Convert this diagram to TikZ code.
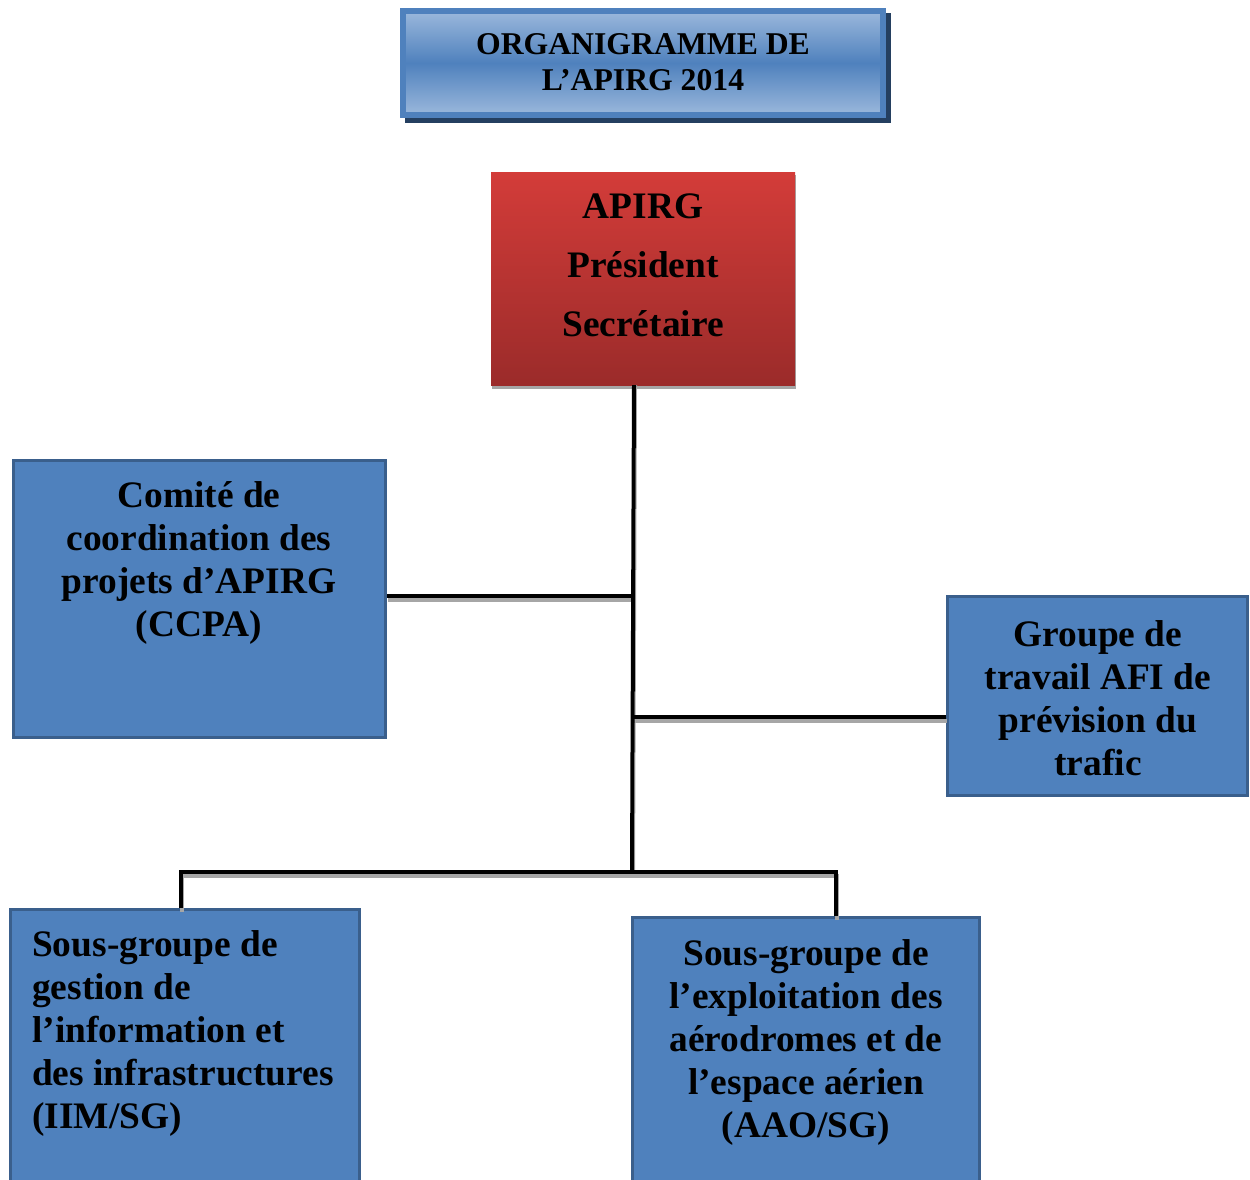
\documentclass[tikz,border=0pt]{standalone}
\usepackage{fontspec}
\setmainfont{Liberation Serif}
\begin{document}
\begin{tikzpicture}[x=1pt,y=1pt,
  blueA/.style={fill=bluefill, draw=blueedge, line width=3pt, inner sep=0pt},
  txt/.style={font=\fontsize{37.4}{43}\selectfont\bfseries, inner sep=0pt, text=black},
  conn/.style={draw=black, line width=4pt, line join=miter},
  connsh/.style={draw=shadowgray, line width=4pt, line join=miter}]
\definecolor{bluefill}{HTML}{4F81BD}
\definecolor{blueedge}{HTML}{3A5F8C}
\definecolor{titlelight}{HTML}{9BB8DC}
\definecolor{titledark}{HTML}{243F60}
\definecolor{redtop}{HTML}{D33C39}
\definecolor{redbot}{HTML}{9B2B2A}
\definecolor{shadowgray}{HTML}{A6A6A6}
\useasboundingbox (0,0) rectangle (1250,-1180);
\clip (0,0) rectangle (1250,-1180);
% title
\fill[titledark] (405,-13) rectangle (891,-123);
\node[minimum width=480, minimum height=104, inner sep=0pt, draw=bluefill, line width=6pt,
  top color=titlelight, bottom color=titlelight, middle color=bluefill] (title) at (643,-63) {};
\node[font=\fontsize{31.7}{36}\selectfont\bfseries, align=center, inner sep=0pt] (titletxt) at (643,-62)
  {ORGANIGRAMME DE\\L’APIRG 2014};
% APIRG
\fill[shadowgray] (492,-175) rectangle (796,-389);
\node[minimum width=304, minimum height=213, inner sep=0pt, top color=redtop, bottom color=redbot] (apirg) at (643,-278.5) {};
\node[txt, align=center, font=\fontsize{37.4}{59}\selectfont\bfseries] (apirgtxt) at (643,-265) {APIRG\\Président\\Secrétaire};
% boxes
\node[blueA, minimum width=372, minimum height=277] (ccpa) at (199.5,-599) {};
\node[txt, align=center] (ccpatxt) at (199,-563) {Comité de\\coordination des\\projets d’APIRG\\(CCPA)};
\node[blueA, minimum width=300, minimum height=199] (groupe) at (1097.5,-696) {};
\node[txt, align=center] (groupetxt) at (1098,-698) {Groupe de\\travail AFI de\\prévision du\\trafic};
\node[blueA, minimum width=349, minimum height=309] (iim) at (185,-1064) {};
\node[txt, align=left, anchor=west] (iimtxt) at (32,-1033.5) {Sous-groupe de\\gestion de\\l’information et\\des infrastructures\\(IIM/SG)};
\node[blueA, minimum width=347, minimum height=301] (aao) at (806,-1068) {};
\node[txt, align=center] (aaotxt) at (806,-1042) {Sous-groupe de\\l’exploitation des\\aérodromes et de\\l’espace aérien\\(AAO/SG)};
% connectors
\coordinate (ttop) at ([xshift=-9]apirg.south);
\coordinate (tbot) at (632,-872);
\coordinate (jc) at (633,-596);
\coordinate (jg) at (633,-717);
\begin{scope}[transform canvas={shift={(1,-3.5)}}]
\draw[connsh] (jc) -- (ccpa.east |- jc);
\draw[connsh] (jg) -- (groupe.west |- jg);
\draw[connsh] (iim.north -| 181,0) |- (tbot) -| (aao.north -| 836,0);
\end{scope}
\draw[draw=shadowgray, line width=1pt] ([xshift=2.5]ttop) -- ([xshift=2.5]tbot);
\draw[conn] (ttop) -- (tbot);
\draw[conn] (jc) -- (ccpa.east |- jc);
\draw[conn] (jg) -- (groupe.west |- jg);
\draw[conn] (iim.north -| 181,0) |- (tbot) -| (aao.north -| 836,0);
\end{tikzpicture}
\end{document}
